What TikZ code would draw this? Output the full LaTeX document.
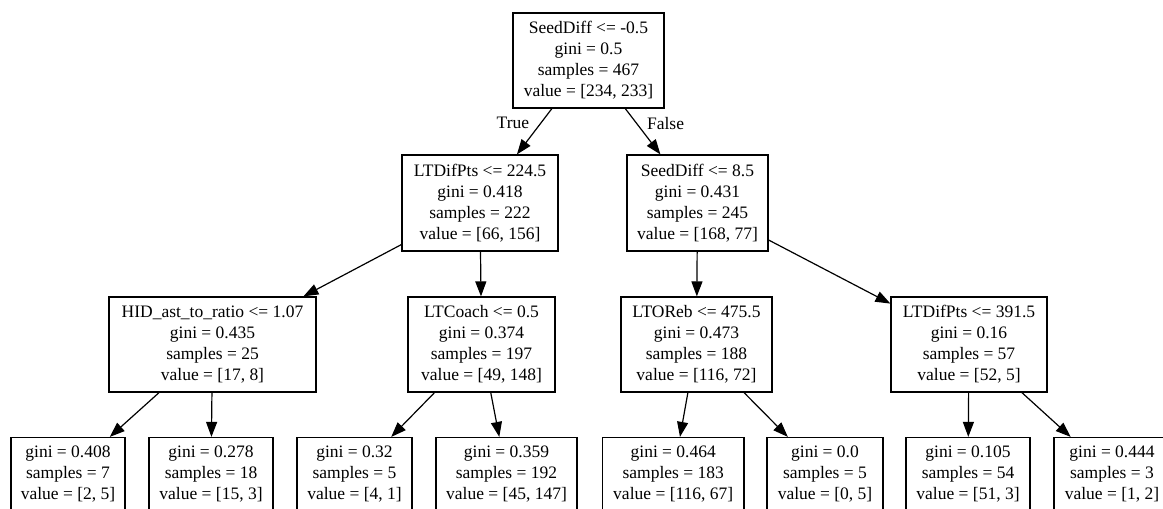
\documentclass[tikz,border=0pt]{standalone}
\usepackage{fontspec}
\setmainfont{Liberation Serif}
\usetikzlibrary{arrows.meta}

\begin{document}
\begin{tikzpicture}[x=1pt, y=-1pt,
  treebox/.style={draw=black, line width=1.2pt, inner sep=0pt, align=center,
    font={\fontsize{17.5}{21}\selectfont}, text=black},
  inner/.style={treebox, minimum height=95pt},
  leaf/.style={treebox, minimum height=74pt},
  link/.style={line width=1.2pt, -{Triangle[length=15pt, width=11pt]}},
  edgelabel/.style={font={\fontsize{17.5}{21}\selectfont}, inner sep=0pt}
]
\useasboundingbox (0,0) rectangle (1163,509);
\clip (0,0) rectangle (1163,509);

% split nodes
\node[inner, minimum width=151pt] (root) at (588.5,60.5)
  {SeedDiff <= -0.5\\ gini = 0.5\\ samples = 467\\ value = [234, 233]};
\node[inner, minimum width=156pt, minimum height=96pt] (l1a) at (480,203)
  {LTDifPts <= 224.5\\ gini = 0.418\\ samples = 222\\ value = [66, 156]};
\node[inner, minimum width=141pt, minimum height=96pt] (l1b) at (697.5,203)
  {SeedDiff <= 8.5\\ gini = 0.431\\ samples = 245\\ value = [168, 77]};
\node[inner, minimum width=207pt] (l2a) at (212.5,344.5)
  {HID\_ast\_to\_ratio <= 1.07\\ gini = 0.435\\ samples = 25\\ value = [17, 8]};
\node[inner, minimum width=147pt] (l2b) at (481.5,344.5)
  {LTCoach <= 0.5\\ gini = 0.374\\ samples = 197\\ value = [49, 148]};
\node[inner, minimum width=151pt] (l2c) at (696.5,344.5)
  {LTOReb <= 475.5\\ gini = 0.473\\ samples = 188\\ value = [116, 72]};
\node[inner, minimum width=156pt] (l2d) at (969,344.5)
  {LTDifPts <= 391.5\\ gini = 0.16\\ samples = 57\\ value = [52, 5]};

% leaves
\node[leaf, minimum width=114pt] (f1) at (68,474.5)
  {gini = 0.408\\ samples = 7\\ value = [2, 5]};
\node[leaf, minimum width=124pt] (f2) at (211,474.5)
  {gini = 0.278\\ samples = 18\\ value = [15, 3]};
\node[leaf, minimum width=115pt] (f3) at (354.5,474.5)
  {gini = 0.32\\ samples = 5\\ value = [4, 1]};
\node[leaf, minimum width=141pt] (f4) at (506.5,474.5)
  {gini = 0.359\\ samples = 192\\ value = [45, 147]};
\node[leaf, minimum width=141.5pt] (f5) at (673.25,474.5)
  {gini = 0.464\\ samples = 183\\ value = [116, 67]};
\node[leaf, minimum width=116pt] (f6) at (825,474.5)
  {gini = 0.0\\ samples = 5\\ value = [0, 5]};
\node[leaf, minimum width=124pt] (f7) at (968,474.5)
  {gini = 0.105\\ samples = 54\\ value = [51, 3]};
\node[leaf, minimum width=116pt] (f8) at (1112,474.5)
  {gini = 0.444\\ samples = 3\\ value = [1, 2]};

% connectors
\draw[link] (root) -- node[edgelabel, pos=0.32, anchor=east, xshift=-11pt] {True} (l1a);
\draw[link] (root) -- node[edgelabel, pos=0.32, anchor=west, xshift=10pt] {False} (l1b);
\draw[link] (l1a) -- (l2a);
\draw[link] (l1a) -- (l2b);
\draw[link] (l1b) -- (l2c);
\draw[link] (l1b) -- (l2d);
\draw[link] (l2a) -- (f1);
\draw[link] (l2a) -- (f2);
\draw[link] (l2b) -- (f3);
\draw[link] (l2b) -- (f4);
\draw[link] (l2c) -- (f5);
\draw[link] (l2c) -- (f6);
\draw[link] (l2d) -- (f7);
\draw[link] (l2d) -- (f8);
\end{tikzpicture}
\end{document}
